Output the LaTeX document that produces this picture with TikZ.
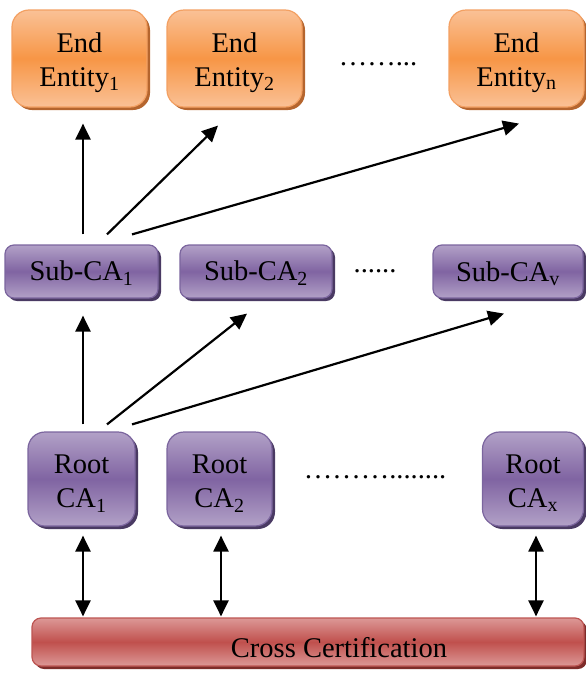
\documentclass[tikz,border=0pt]{standalone}
\usepackage{fontspec}
\setmainfont{Liberation Serif}
\usetikzlibrary{shadows,arrows.meta}
\newcommand\firststrut{\rule{0pt}{27.5pt}}
\definecolor{orMid}{HTML}{F79646}
\definecolor{orLt}{HTML}{FAC196}
\definecolor{orEdge}{HTML}{F3A062}
\definecolor{orSh}{HTML}{B5652E}
\definecolor{puMid}{HTML}{8064A2}
\definecolor{puLt}{HTML}{B2A1C7}
\definecolor{puEdge}{HTML}{7B659E}
\definecolor{puSh}{HTML}{4A3A63}
\definecolor{reMid}{HTML}{C0504D}
\definecolor{reLt}{HTML}{DC9896}
\definecolor{reEdge}{HTML}{BD5552}
\definecolor{reSh}{HTML}{7E2C2A}
\tikzset{
  box/.style={rectangle, line width=1.2pt, inner sep=0pt, align=center,
    font=\fontsize{28.5}{34}\selectfont},
  eebox/.style={box, draw=orEdge, top color=orLt, bottom color=orLt, middle color=orMid,
    rounded corners=17pt, minimum width=135pt, minimum height=97pt,
    drop shadow={shadow xshift=3pt, shadow yshift=-3pt, fill=orSh, opacity=1}},
  subbox/.style={box, draw=puEdge, top color=puLt, bottom color=puLt, middle color=puMid,
    rounded corners=9pt, minimum height=53pt, text height=23.5pt,
    drop shadow={shadow xshift=3pt, shadow yshift=-3pt, fill=puSh, opacity=1}},
  rootbox/.style={box, draw=puEdge, top color=puLt, bottom color=puLt, middle color=puMid,
    rounded corners=17pt, minimum height=94pt,
    drop shadow={shadow xshift=3pt, shadow yshift=-3pt, fill=puSh, opacity=1}},
  crossbox/.style={box, draw=reEdge, top color=reLt, bottom color=reLt, middle color=reMid,
    rounded corners=9pt, minimum height=48pt, minimum width=552pt,
    drop shadow={shadow xshift=3pt, shadow yshift=-3pt, fill=reSh, opacity=1}},
  dotstxt/.style={font=\fontsize{28.5}{34}\selectfont, inner sep=0pt},
  arr/.style={line width=2.2pt, -{Triangle[length=16pt,width=15pt]}},
  darr/.style={line width=2.2pt, {Triangle[length=16pt,width=15pt]}-{Triangle[length=16pt,width=15pt]}}
}
\begin{document}
\begin{tikzpicture}[x=1pt,y=-1pt]
\useasboundingbox (0,0) rectangle (586,675);
% End entities
\node[eebox] (ee1) at (79.5,58.5) {\firststrut End\\Entity\textsubscript{1}};
\node[eebox] (ee2) at (234.5,58.5) {\firststrut End\\Entity\textsubscript{2}};
\node[eebox] (een) at (516.5,58.5) {\firststrut End\\Entity\textsubscript{n}};
\node[dotstxt] (eedots) at (378,64) {\dots\dots...};
% Sub-CAs
\node[subbox, minimum width=153pt] (sub1) at (81.5,271.5) {Sub-CA\textsubscript{1}};
\node[subbox, minimum width=152pt] (sub2) at (256,271.5) {Sub-CA\textsubscript{2}};
\node[subbox, minimum width=150pt] (subv) at (508,271.5) {Sub-CA\textsubscript{v}};
\node[dotstxt] (subdots) at (375,271) {......};
% Root CAs
\node[rootbox, minimum width=107pt] (root1) at (81.5,479) {\firststrut Root\\CA\textsubscript{1}};
\node[rootbox, minimum width=105pt] (root2) at (219.5,479) {\firststrut Root\\CA\textsubscript{2}};
\node[rootbox, minimum width=101pt] (rootx) at (533,479) {\firststrut Root\\CA\textsubscript{x}};
\node[dotstxt] (rootdots) at (375,477) {\dots\dots\dots........};
% Cross certification
\node[crossbox] (cross) at (308,642) {};
\node[font=\fontsize{28.5}{34}\selectfont, inner sep=0pt] (crosstxt) at (339,648) {Cross Certification};
% arrows Sub-CA1 -> End entities
\draw[arr] ([xshift=1.5pt,yshift=10pt]sub1.north) -- ([xshift=3.5pt,yshift=-16pt]ee1.south);
\draw[arr] ([xshift=25.5pt,yshift=10pt]sub1.north) -- ([xshift=-16.5pt,yshift=-18pt]ee2.south);
\draw[arr] ([xshift=50.5pt,yshift=10pt]sub1.north) -- ([xshift=2.5pt,yshift=-16pt]een.south);
% arrows Root CA1 -> Sub-CAs
\draw[arr] ([xshift=1.5pt,yshift=7pt]root1.north) -- ([xshift=1.5pt,yshift=-17pt]sub1.south);
\draw[arr] ([xshift=25.5pt,yshift=7pt]root1.north) -- ([xshift=-9pt,yshift=-15pt]sub2.south);
\draw[arr] ([xshift=50.5pt,yshift=7pt]root1.north) -- ([xshift=-4pt,yshift=-15pt]subv.south);
% cross certification arrows
\draw[darr] ([xshift=1.5pt,yshift=-9pt]root1.south) -- ([xshift=-225pt,yshift=1pt]cross.north);
\draw[darr] ([xshift=1.5pt,yshift=-9pt]root2.south) -- ([xshift=-87pt,yshift=1pt]cross.north);
\draw[darr] ([xshift=3pt,yshift=-9pt]rootx.south) -- ([xshift=228pt,yshift=1pt]cross.north);
\end{tikzpicture}
\end{document}
